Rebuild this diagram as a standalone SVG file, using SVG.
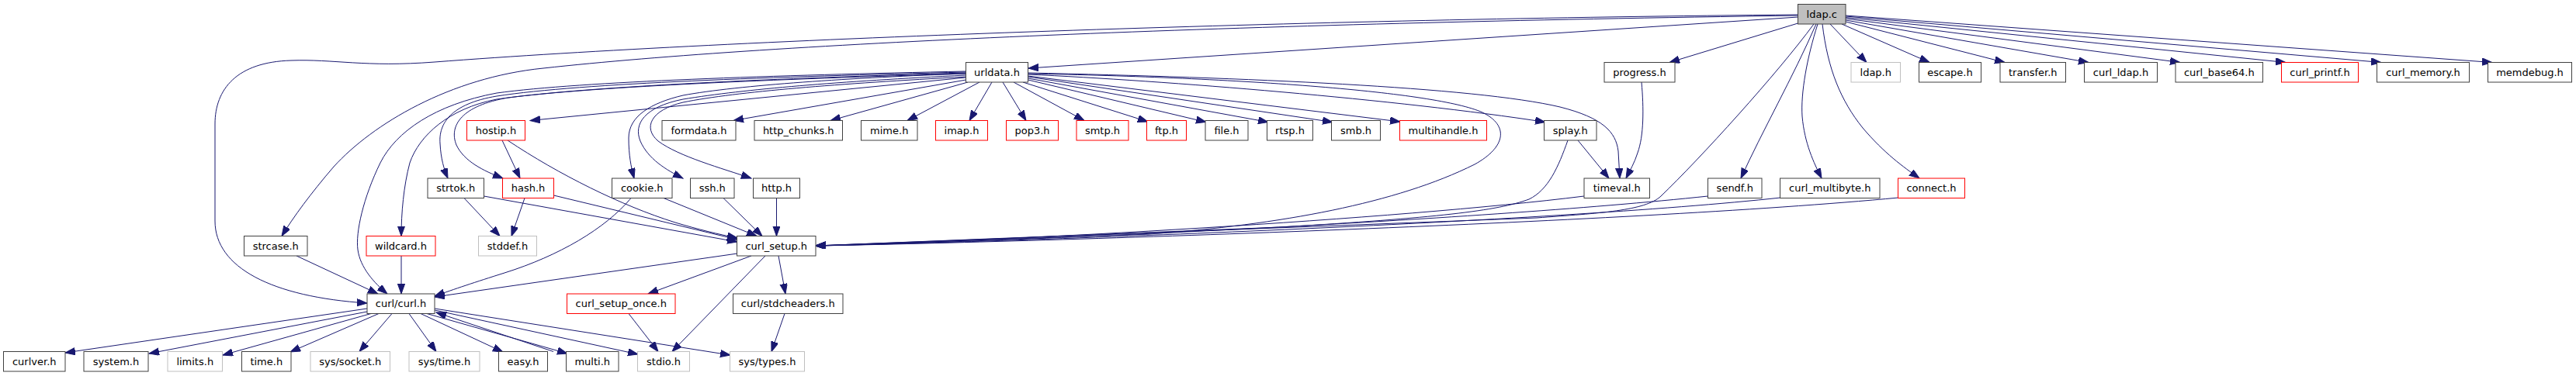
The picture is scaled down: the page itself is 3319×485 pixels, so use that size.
<svg xmlns="http://www.w3.org/2000/svg" width="3319" height="485" viewBox="0 0 3319 485">
<style>
rect{fill:#fff;stroke:#404040;stroke-width:1}
.g rect{stroke:#bfbfbf}
.r rect{stroke:#ff0000}
.root rect{fill:#bfbfbf}
text{font-family:"DejaVu Sans","Liberation Sans",sans-serif;font-size:13px;text-anchor:middle;fill:#000}
#edges path{fill:none;stroke:#191970;stroke-width:1;marker-end:url(#a)}
</style>
<defs>
<marker id="a" markerUnits="userSpaceOnUse" markerWidth="14" markerHeight="10" refX="13" refY="4.67" orient="auto"><path d="M0,0 L13,4.67 L0,9.33z" fill="#191970" stroke="#191970" stroke-width="1"/></marker>
</defs>
<rect x="0" y="0" width="3319" height="485" style="fill:#fff;stroke:none"/>
<g id="edges">
<path d="M2316.5,22 L1325,88"/>
<path d="M2316.5,19 C1700,24 950,50 560,80 C470,87 430,76 375,78 C305,80 277,115 277,160 L277,285 C277,345 350,383 473,391"/>
<path d="M2316.5,20 C1600,30 1000,55 700,88 C580,100 480,160 430,215 C400,250 378,280 363,304.5"/>
<path d="M2316.5,30 L2151,80.5"/>
<path d="M2337,31 C2290,95 2190,205 2140,253 C2120,272 2060,275 1980,281 L1051,317"/>
<path d="M2340,31 C2310,100 2270,170 2243,230"/>
<path d="M2342,31 C2328,75 2320,120 2322,150 C2325,185 2337,210 2347,230"/>
<path d="M2348,31 C2355,90 2372,130 2400,165 C2428,198 2452,215 2473,230"/>
<path d="M2358,31 L2405,80.5"/>
<path d="M2373,31 L2486,80.5"/>
<path d="M2378,28 L2583,80.5"/>
<path d="M2378,26 L2691,80.5"/>
<path d="M2378,24 L2809,80.5"/>
<path d="M2378,22.5 L2945,80.5"/>
<path d="M2378,21 L3068,80.5"/>
<path d="M2378,20 L3211,80.5"/>
<path d="M1244.5,100 L683,155.5"/>
<path d="M1244.5,103 L945,155.5"/>
<path d="M1247,106 L1070,155.5"/>
<path d="M1262,106 L1169,155.5"/>
<path d="M1278,106 L1249,155.5"/>
<path d="M1292,106 L1322,155.5"/>
<path d="M1306,106 L1397,155.5"/>
<path d="M1318,106 L1479,157"/>
<path d="M1324.5,103 L1554,157.5"/>
<path d="M1324.5,101 L1634,157.5"/>
<path d="M1324.5,99 L1717,157.5"/>
<path d="M1324.5,98 L1804,157"/>
<path d="M1324.5,96 C1500,104 1800,128 1991,157.5"/>
<path d="M1324.5,94 C1600,100 1900,112 2010,138 C2065,152 2082,170 2085,195 L2087,230"/>
<path d="M1324.5,95 C1600,100 1850,118 1910,145 C1945,162 1940,190 1900,212 C1800,262 1650,290 1480,302 L1051,317"/>
<path d="M1244.5,95 C1100,100 950,110 880,123 C838,133 810,150 810,178 C810,200 813,215 817,230"/>
<path d="M1244.5,97 C1080,105 960,115 880,128 C830,138 816,160 825,182 C835,205 858,219 880,230"/>
<path d="M1244.5,99 C1080,108 950,118 880,132 C838,142 828,165 848,182 C875,202 930,217 968,230"/>
<path d="M1244.5,93 C1000,99 750,107 640,124 C580,134 565,160 567,185 C568,205 572,218 577,230"/>
<path d="M1244.5,94 C1000,101 770,111 655,126 C595,136 578,162 588,187 C598,208 622,220 648,230"/>
<path d="M1244.5,95 C1000,102 750,112 640,128 C578,140 540,175 528,210 C520,240 517,275 517,304.5"/>
<path d="M1244.5,92 C1000,97 750,105 640,120 C560,135 510,170 490,210 C468,255 458,300 461,322 C464,345 482,365 499,379"/>
<path d="M647,181 L670,230"/>
<path d="M654,181 C720,225 800,265 870,287 C900,296 925,302 950,307"/>
<path d="M676,255.5 L659,304.5"/>
<path d="M713.5,252 L950,309"/>
<path d="M598,255.5 L644,304.5"/>
<path d="M623.5,253 L950,312"/>
<path d="M855,255.5 L975,304.5"/>
<path d="M813,255.5 C780,295 720,330 650,352 C612,364 585,373 560,382"/>
<path d="M932,255.5 L982,304.5"/>
<path d="M1000.5,255.5 L1000.5,304.5"/>
<path d="M2033,181 L2073,230"/>
<path d="M2020,181 C2008,215 1995,245 1970,257 C1930,272 1850,281 1650,293 L1051,317"/>
<path d="M2115,106 C2118,140 2118,175 2110,197 C2106,210 2100,220 2095,230"/>
<path d="M2041,253 C1800,283 1300,311 1051,317"/>
<path d="M2200.5,253 C1900,285 1300,312 1051,317"/>
<path d="M2294,255 C2000,287 1300,312 1051,317"/>
<path d="M2446,255 C2100,288 1300,313 1051,317"/>
<path d="M950,327 L560,383"/>
<path d="M968,330 L835,379"/>
<path d="M986,330 L866,453.5"/>
<path d="M1003,330 L1012,379"/>
<path d="M810,404.5 L848,453.5"/>
<path d="M1011,404.5 L994,453.5"/>
<path d="M382,330 L487,379"/>
<path d="M517,330 L517,379"/>
<path d="M473,398 L84,455"/>
<path d="M473,402 L192,456"/>
<path d="M478,404.5 L287,458"/>
<path d="M488,404.5 L374,454"/>
<path d="M505,404.5 L463,453.5"/>
<path d="M527,404.5 L562,453.5"/>
<path d="M542,404.5 L648,454"/>
<path d="M550,404.5 L731,456"/>
<path d="M560,400 L822,457"/>
<path d="M560,398 L941,458"/>
<path d="M713,453.5 L562,403"/>
</g>
<g id="n_ldap_c" class="root"><rect x="2316.5" y="5.5" width="61.5" height="25.5"/><text x="2347.25" y="22.5">ldap.c</text></g>
<g id="n_urldata"><rect x="1244.5" y="80.5" width="80" height="25.5"/><text x="1284.5" y="97.5">urldata.h</text></g>
<g id="n_progress"><rect x="2067" y="80.5" width="91" height="25.5"/><text x="2112.5" y="97.5">progress.h</text></g>
<g id="n_ldap_h" class="g"><rect x="2385" y="80.5" width="63.5" height="25.5"/><text x="2416.75" y="97.5">ldap.h</text></g>
<g id="n_escape"><rect x="2472.5" y="80.5" width="80" height="25.5"/><text x="2512.5" y="97.5">escape.h</text></g>
<g id="n_transfer"><rect x="2577" y="80.5" width="84.5" height="25.5"/><text x="2619.25" y="97.5">transfer.h</text></g>
<g id="n_curl_ldap"><rect x="2685.5" y="80.5" width="94" height="25.5"/><text x="2732.5" y="97.5">curl_ldap.h</text></g>
<g id="n_curl_base64"><rect x="2803" y="80.5" width="112.5" height="25.5"/><text x="2859.25" y="97.5">curl_base64.h</text></g>
<g id="n_curl_printf" class="r"><rect x="2939.5" y="80.5" width="99" height="25.5"/><text x="2989" y="97.5">curl_printf.h</text></g>
<g id="n_curl_memory"><rect x="3062.5" y="80.5" width="119" height="25.5"/><text x="3122" y="97.5">curl_memory.h</text></g>
<g id="n_memdebug"><rect x="3205.5" y="80.5" width="108" height="25.5"/><text x="3259.5" y="97.5">memdebug.h</text></g>
<g id="n_hostip" class="r"><rect x="601.5" y="155.5" width="75" height="25.5"/><text x="639" y="172.5">hostip.h</text></g>
<g id="n_formdata"><rect x="853" y="155.5" width="95" height="25.5"/><text x="900.5" y="172.5">formdata.h</text></g>
<g id="n_http_chunks"><rect x="972" y="155.5" width="113.5" height="25.5"/><text x="1028.75" y="172.5">http_chunks.h</text></g>
<g id="n_mime"><rect x="1109.5" y="155.5" width="72.5" height="25.5"/><text x="1145.75" y="172.5">mime.h</text></g>
<g id="n_imap" class="r"><rect x="1205.5" y="155.5" width="67" height="25.5"/><text x="1239" y="172.5">imap.h</text></g>
<g id="n_pop3" class="r"><rect x="1296.5" y="155.5" width="67" height="25.5"/><text x="1330" y="172.5">pop3.h</text></g>
<g id="n_smtp" class="r"><rect x="1387" y="155.5" width="67" height="25.5"/><text x="1420.5" y="172.5">smtp.h</text></g>
<g id="n_ftp" class="r"><rect x="1477.5" y="155.5" width="51" height="25.5"/><text x="1503" y="172.5">ftp.h</text></g>
<g id="n_file"><rect x="1553" y="155.5" width="55" height="25.5"/><text x="1580.5" y="172.5">file.h</text></g>
<g id="n_rtsp"><rect x="1632.5" y="155.5" width="59" height="25.5"/><text x="1662" y="172.5">rtsp.h</text></g>
<g id="n_smb"><rect x="1715.5" y="155.5" width="63" height="25.5"/><text x="1747" y="172.5">smb.h</text></g>
<g id="n_multihandle" class="r"><rect x="1803.5" y="155.5" width="112" height="25.5"/><text x="1859.5" y="172.5">multihandle.h</text></g>
<g id="n_splay"><rect x="1989.5" y="155.5" width="67.5" height="25.5"/><text x="2023.25" y="172.5">splay.h</text></g>
<g id="n_strtok"><rect x="551" y="230" width="72.5" height="25.5"/><text x="587.25" y="247">strtok.h</text></g>
<g id="n_hash" class="r"><rect x="647.5" y="230" width="66" height="25.5"/><text x="680.5" y="247">hash.h</text></g>
<g id="n_cookie"><rect x="788.5" y="230" width="77.5" height="25.5"/><text x="827.25" y="247">cookie.h</text></g>
<g id="n_ssh"><rect x="889.5" y="230" width="56.5" height="25.5"/><text x="917.75" y="247">ssh.h</text></g>
<g id="n_http"><rect x="970.5" y="230" width="60" height="25.5"/><text x="1000.5" y="247">http.h</text></g>
<g id="n_timeval"><rect x="2041" y="230" width="84.5" height="25.5"/><text x="2083.25" y="247">timeval.h</text></g>
<g id="n_sendf"><rect x="2200.5" y="230" width="69.5" height="25.5"/><text x="2235.25" y="247">sendf.h</text></g>
<g id="n_curl_multibyte"><rect x="2293.5" y="230" width="128.5" height="25.5"/><text x="2357.75" y="247">curl_multibyte.h</text></g>
<g id="n_connect" class="r"><rect x="2445.5" y="230" width="86" height="25.5"/><text x="2488.5" y="247">connect.h</text></g>
<g id="n_strcase"><rect x="314.5" y="304.5" width="81.5" height="25.5"/><text x="355.25" y="321.5">strcase.h</text></g>
<g id="n_wildcard" class="r"><rect x="472" y="304.5" width="89" height="25.5"/><text x="516.5" y="321.5">wildcard.h</text></g>
<g id="n_stddef" class="g"><rect x="616.5" y="304.5" width="75" height="25.5"/><text x="654" y="321.5">stddef.h</text></g>
<g id="n_curl_setup"><rect x="949.5" y="304.5" width="101.5" height="25.5"/><text x="1000.25" y="321.5">curl_setup.h</text></g>
<g id="n_curl_curl"><rect x="473" y="379" width="87" height="25.5"/><text x="516.5" y="396">curl/curl.h</text></g>
<g id="n_curl_setup_once" class="r"><rect x="730.5" y="379" width="139.5" height="25.5"/><text x="800.25" y="396">curl_setup_once.h</text></g>
<g id="n_stdcheaders"><rect x="944.5" y="379" width="141.5" height="25.5"/><text x="1015.25" y="396">curl/stdcheaders.h</text></g>
<g id="n_curlver"><rect x="4.5" y="453.5" width="79.5" height="25.5"/><text x="44.25" y="470.5">curlver.h</text></g>
<g id="n_system"><rect x="108" y="453.5" width="83" height="25.5"/><text x="149.5" y="470.5">system.h</text></g>
<g id="n_limits" class="g"><rect x="216" y="453.5" width="70.5" height="25.5"/><text x="251.25" y="470.5">limits.h</text></g>
<g id="n_time"><rect x="311.5" y="453.5" width="63.5" height="25.5"/><text x="343.25" y="470.5">time.h</text></g>
<g id="n_sys_socket" class="g"><rect x="400" y="453.5" width="102.5" height="25.5"/><text x="451.25" y="470.5">sys/socket.h</text></g>
<g id="n_sys_time" class="g"><rect x="527" y="453.5" width="91" height="25.5"/><text x="572.5" y="470.5">sys/time.h</text></g>
<g id="n_easy"><rect x="642.5" y="453.5" width="63" height="25.5"/><text x="674" y="470.5">easy.h</text></g>
<g id="n_multi"><rect x="729.5" y="453.5" width="67.5" height="25.5"/><text x="763.25" y="470.5">multi.h</text></g>
<g id="n_stdio" class="g"><rect x="821.5" y="453.5" width="67" height="25.5"/><text x="855" y="470.5">stdio.h</text></g>
<g id="n_sys_types" class="g"><rect x="940.5" y="453.5" width="96" height="25.5"/><text x="988.5" y="470.5">sys/types.h</text></g>
</svg>
